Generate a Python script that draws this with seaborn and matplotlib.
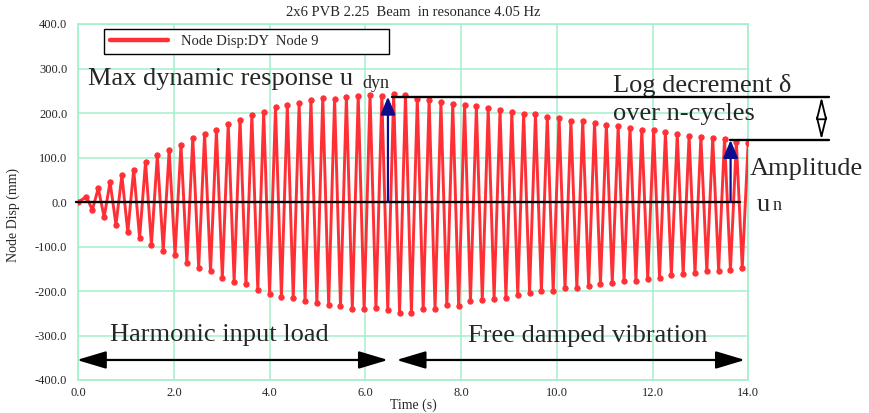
import numpy as np
import pandas as pd
import seaborn as sns
import matplotlib.pyplot as plt
from matplotlib.ticker import MultipleLocator, FormatStrFormatter

# node 9 DY displacement (mm), one peak / trough per cycle
FREQ = 4.05          # Hz, resonance frequency from the title
T0 = 0.17            # time of first peak (s)

forced_peaks = [12, 31, 45, 60, 73, 90, 105, 116, 129, 144, 153, 161, 176,
                185, 196, 202, 213, 217, 222, 229, 234, 232, 237, 239, 241, 239]
free_peaks = [243, 241, 232, 230, 224, 221, 218, 215, 211, 206, 202, 198, 197,
              191, 189, 183, 182, 177, 174, 170, 167, 162, 161, 157, 153, 149,
              147, 144, 142, 135, 133]
forced_troughs = [-18, -34, -51, -68, -81, -96, -109, -118, -136, -148, -156,
                  -171, -179, -185, -197, -206, -213, -215, -223, -228, -232,
                  -234, -240, -241, -238, -243, -249]
free_troughs = [-249, -241, -240, -232, -234, -223, -221, -217, -215, -209,
                -204, -200, -200, -194, -193, -189, -185, -182, -178, -177,
                -173, -171, -165, -162, -159, -156, -154, -153, -148]

peaks = forced_peaks + free_peaks
troughs = forced_troughs + free_troughs

t_list = [0.0]
d_list = [0.0]
for k, p in enumerate(peaks):
    t_list.append(T0 + k / FREQ)
    d_list.append(p)
    if k < len(troughs):
        t_list.append(T0 + (k + 0.5) / FREQ)
        d_list.append(troughs[k])
df = pd.DataFrame({'time': t_list, 'disp': d_list})

sns.set_style('white')
plt.rcParams['font.family'] = ['Liberation Serif', 'DejaVu Serif']

grid_col = '#a3f0cc'
red = '#ff3035'
navy = '#0c0c8c'

fig = plt.figure(figsize=(8.69, 4.13), dpi=100)
ax = fig.add_axes([78.3 / 869, 1 - 380 / 413, 670 / 869, 356 / 413])

sns.lineplot(data=df, x='time', y='disp', sort=False, estimator=None, ax=ax,
             color=red, lw=2.1, marker='o', ms=3.8, mec=red,
             label='Node Disp:DY  Node 9', zorder=3)

ax.set_xlim(0, 14)
ax.set_ylim(-400, 400)
ax.xaxis.set_major_locator(MultipleLocator(2))
ax.xaxis.set_minor_locator(MultipleLocator(0.4))
ax.yaxis.set_major_locator(MultipleLocator(100))
ax.yaxis.set_minor_locator(MultipleLocator(50))
ax.xaxis.set_major_formatter(FormatStrFormatter('%.1f'))
ax.yaxis.set_major_formatter(FormatStrFormatter('%.1f'))
ax.grid(True, which='major', color=grid_col, lw=1.1)
ax.tick_params(which='both', direction='in', color=grid_col, labelsize=9)
ax.tick_params(which='major', length=0)
ax.tick_params(axis='x', which='minor', length=4, width=1)
ax.tick_params(axis='y', which='minor', length=7, width=1)
ax.tick_params(axis='x', pad=5)
ax.tick_params(axis='y', pad=8)
for s in ax.spines.values():
    s.set_color(grid_col)
    s.set_linewidth(1.2)
ax.set_xlabel('')
ax.set_ylabel('')

fig.text(413 / 869, 1 - 12 / 413, '2x6 PVB 2.25  Beam  in resonance 4.05 Hz',
         ha='center', va='center', fontsize=10.5)
fig.text(413 / 869, 1 - 405 / 413, 'Time (s)', ha='center', va='center', fontsize=10)
fig.text(13 / 869, 1 - 215 / 413, 'Node Disp (mm)', rotation=90,
         ha='center', va='center', fontsize=10)

leg = ax.legend(loc='lower left', bbox_to_anchor=(0.0384, 0.917, 0.426, 0.068),
                mode='expand', borderaxespad=0, borderpad=0.4, fontsize=10.5,
                handlelength=4.0, handletextpad=0.9, fancybox=False,
                edgecolor='black', framealpha=1)
leg.get_frame().set_linewidth(1.0)
for h in leg.legend_handles:
    h.set_marker('')
    h.set_linewidth(3.2)

# annotation lines
ax.plot([-0.05, 13.83], [0, 0], color='black', lw=1.7, clip_on=False, zorder=4)
ax.plot([6.55, 15.69], [236.6, 236.6], color='black', lw=1.7, clip_on=False, zorder=4)
ax.plot([13.62, 15.69], [139.3, 139.3], color='black', lw=1.7, clip_on=False, zorder=4)

blue_arrow = dict(arrowstyle='-|>,head_length=0.6,head_width=0.25',
                  mutation_scale=18, color=navy, lw=1.6, shrinkA=0, shrinkB=0)
ax.annotate('', xy=(6.47, 236.6), xytext=(6.47, 0), arrowprops=blue_arrow,
            zorder=5)
ax.annotate('', xy=(13.63, 139.3), xytext=(13.63, 0), arrowprops=blue_arrow,
            zorder=5)

ax.annotate('', xy=(15.53, 236.6), xytext=(15.53, 139.3), annotation_clip=False,
            arrowprops=dict(arrowstyle='<|-|>,head_length=0.9,head_width=0.22',
                            mutation_scale=15, fc='white', ec='black', lw=1.3,
                            shrinkA=0, shrinkB=0))

black_arrow = dict(arrowstyle='<|-|>,head_length=0.9,head_width=0.27',
                   mutation_scale=20, color='black', lw=1.6, shrinkA=0, shrinkB=0)
ax.annotate('', xy=(6.47, -355), xytext=(-0.03, -355), arrowprops=black_arrow,
            annotation_clip=False)
ax.annotate('', xy=(13.93, -355), xytext=(6.65, -355), arrowprops=black_arrow,
            annotation_clip=False)

big = 19
small = 13
ax.text(0.21, 263, 'Max dynamic response u', fontsize=big, va='baseline')
ax.text(5.93, 256, 'dyn', fontsize=small, va='baseline')
ax.text(11.17, 248, 'Log decrement δ', fontsize=big, va='baseline')
ax.text(11.17, 184, 'over n-cycles', fontsize=big, va='baseline')
ax.text(14.03, 60, 'Amplitude', fontsize=big, va='baseline')
ax.text(14.18, -20, 'u', fontsize=big, va='baseline')
ax.text(14.51, -18, 'n', fontsize=small, va='baseline')
ax.text(0.66, -312, 'Harmonic input load', fontsize=big, va='baseline')
ax.text(8.14, -315, 'Free damped vibration', fontsize=big, va='baseline')

fig.savefig('out.png', dpi=100)
